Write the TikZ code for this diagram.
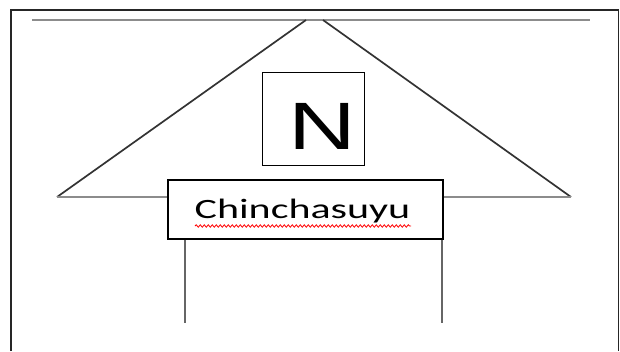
\documentclass[tikz,border=0pt]{standalone}
\usepackage{fontspec}
\setmainfont{Carlito}
\newfontfamily\nfont{Liberation Sans}
\usetikzlibrary{decorations.pathmorphing}
\begin{document}
\begin{tikzpicture}[x=1pt,y=-1pt,
  frame/.style={draw=black!85,line width=1.6pt},
  grayline/.style={draw=black!45,line width=2.2pt},
  slant/.style={draw=black!80,line width=1.7pt},
  post/.style={draw=black!60,line width=2.5pt},
  box/.style={draw=black,line width=1.5pt,fill=white,inner sep=0pt}]
\useasboundingbox (0,0) rectangle (620,351);
% outer frame (no bottom)
\draw[frame] (11,351) -- (11,10) -- (618.5,10) -- (618.5,351);
% top gray line
\coordinate (tl) at (32,20);
\coordinate (tr) at (590,20);
\draw[grayline] (tl) -- (tr);
% triangle sides
\coordinate (al) at (306,20);
\coordinate (ar) at (323,20);
\coordinate (bl) at (57,197);
\coordinate (br) at (571,197);
\draw[slant] (bl) -- (al);
\draw[slant] (br) -- (ar);
% label box
\node[box,minimum width=275pt,minimum height=59pt] (c) at (305.5,209.5) {};
% base line
\draw[grayline] (bl) -- (c.west |- bl);
\draw[grayline] (c.east |- br) -- (br);
% posts
\coordinate (pl) at (185,323);
\coordinate (pr) at (442,323);
\draw[post] (c.south -| pl) -- (pl);
\draw[post] (c.south -| pr) -- (pr);
% N box
\node[box,minimum width=102pt,minimum height=93pt] (n) at (313.5,119) {};
\node[inner sep=0pt] (nt) at (322.5,126.5) {\nfont\fontsize{67}{67}\selectfont\scalebox{1.4}[1]{N}};
\node[inner sep=0pt,anchor=base] (ct) at (302.5,218) {\fontsize{28}{28}\selectfont\scalebox{1.5}[1]{Chinchasuyu}};
\draw[red,line width=0.8pt,decorate,decoration={snake,amplitude=1.2pt,segment length=4pt}] (195,226) -- (411,226);
\end{tikzpicture}
\end{document}
